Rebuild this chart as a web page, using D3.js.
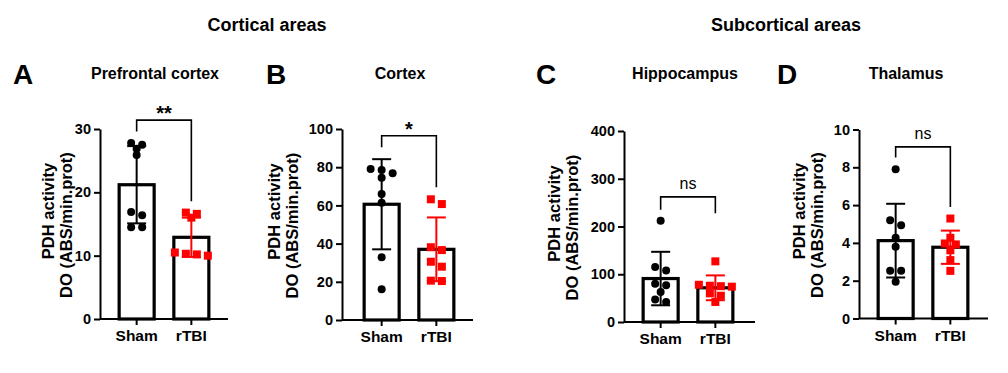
<!DOCTYPE html>
<html>
<head>
<meta charset="utf-8">
<script src="https://cdn.jsdelivr.net/npm/d3@7"></script>
<style>
    body { margin: 0; background: #fff; }
    svg text { font-family: "Liberation Sans", Arial, sans-serif; }
</style>
</head>
<body>
<svg id="chart" width="1008" height="373"></svg>
<script>
// values
const groups = ["Sham", "rTBI"];
const panelLetters = ["A", "B", "C", "D"];
const panelTitles = ["Prefrontal cortex", "Cortex", "Hippocampus", "Thalamus"];
const sectionTitles = ["Cortical areas", "Subcortical areas"];
const yLabelLines = ["PDH activity", "DO (ABS/min.prot)"];

const yMax = [30, 100, 400, 10];
const yTicks = [
    [0, 10, 20, 30],
    [0, 20, 40, 60, 80, 100],
    [0, 100, 200, 300, 400],
    [0, 2, 4, 6, 8, 10]
];

const shamMean = [21.2, 60.6, 91, 4.12];
const shamSD = [6.1, 23.6, 56, 1.95];
const rtbiMean = [12.9, 37.0, 71.6, 3.77];
const rtbiSD = [3.1, 16.7, 26, 0.88];

const shamPoints = [
    [27.8, 27.5, 26.9, 25.9, 16.9, 16.4, 14.5, 14.5],
    [79.0, 78.5, 76.8, 74.5, 66.0, 61.4, 32.8, 16.1],
    [212, 115, 108, 80, 77, 63, 47, 42],
    [7.9, 5.2, 4.94, 4.27, 3.79, 2.52, 2.52, 1.94]
];
const rtbiPoints = [
    [16.8, 16.6, 16.0, 10.5, 10.3, 10.2, 10.0],
    [63.2, 60.7, 38.1, 36.6, 30.5, 27.9, 20.6, 20.4],
    [127, 78, 76, 75, 74, 60, 55, 42],
    [5.29, 4.27, 3.97, 3.92, 3.61, 3.09, 2.52]
];

const sigLabels = ["**", "*", "ns", "ns"];
// bracket: top, left leg end, right leg end (in data units)
const bracketTop = [31.4, 96.5, 262, 9.08];
const bracketLeft = [29.6, 90.4, 235, 8.52];
const bracketRight = [18.6, 69.5, 228, 5.9];

// layout (pixels)
const layout = [
    {axisX: 100, bandX: 100, xEnd: 228, y0: 319, y1: 129, letterX: 13, titleX: 155, lab2: 28},
    {axisX: 342, bandX: 345, xEnd: 473, y0: 320, y1: 129, letterX: 266, titleX: 400, lab2: 44},
    {axisX: 624, bandX: 624, xEnd: 755, y0: 322, y1: 131, letterX: 536, titleX: 685, lab2: 46},
    {axisX: 859, bandX: 859, xEnd: 988, y0: 318.5, y1: 129.5, letterX: 777, titleX: 906, lab2: 36}
];
const sectionX = [267, 786];
const colors = {Sham: "#000", rTBI: "#ff0000"};

const svg = d3.select("#chart");

svg.selectAll(".sectionTitle")
    .data(sectionTitles)
    .join("text")
        .classed("sectionTitle", true)
        .attr("x", (d, i) => sectionX[i])
        .attr("y", 31)
        .attr("text-anchor", "middle")
        .style("font-size", "18px")
        .style("font-weight", "bold")
        .text(d => d);

// points close in height go in one row, centred on the group
function dodge(values, yScale, cx) {
    const sorted = values.slice().sort((a, b) => b - a);
    const rows = [];
    sorted.forEach(v => {
        const y = yScale(v);
        const row = rows[rows.length - 1];
        if (row && Math.abs(y - row[0].y) <= 5.05) row.push({v, y});
        else rows.push([{v, y}]);
    });
    const out = [];
    rows.forEach(row => {
        row.forEach((p, j) => {
            out.push({v: p.v, y: p.y, x: cx + (j - (row.length - 1) / 2) * 11});
        });
    });
    return out;
}

panelLetters.forEach((letter, i) => {
    const L = layout[i];
    const g = svg.append("g");

    g.append("text")
        .attr("x", L.letterX)
        .attr("y", 84)
        .style("font-size", "28px")
        .style("font-weight", "bold")
        .text(letter);

    g.append("text")
        .attr("x", L.titleX)
        .attr("y", 79)
        .attr("text-anchor", "middle")
        .style("font-size", "16px")
        .style("font-weight", "bold")
        .text(panelTitles[i]);

    const xScale = d3.scaleBand()
        .domain(groups)
        .range([L.bandX, L.bandX + 128])
        .paddingInner(0.36)
        .paddingOuter(0.35);

    const yScale = d3.scaleLinear()
        .domain([0, yMax[i]])
        .range([L.y0, L.y1]);

    const bw = xScale.bandwidth();
    const cx = d => xScale(d) + bw / 2;

    const stats = [
        {group: "Sham", mean: shamMean[i], sd: shamSD[i], pts: shamPoints[i]},
        {group: "rTBI", mean: rtbiMean[i], sd: rtbiSD[i], pts: rtbiPoints[i]}
    ];

    // bars
    g.selectAll(".bar")
        .data(stats)
        .join("rect")
            .classed("bar", true)
            .attr("x", d => xScale(d.group))
            .attr("y", d => yScale(d.mean))
            .attr("width", bw)
            .attr("height", d => yScale(0) - yScale(d.mean))
            .attr("fill", "#fff")
            .attr("stroke", "#000")
            .attr("stroke-width", 3.2);

    // axes
    const yAxis = g.append("g")
        .attr("transform", `translate(${L.axisX},0)`)
        .call(d3.axisLeft(yScale).tickValues(yTicks[i]).tickSize(6).tickSizeOuter(0).tickPadding(3));
    const xAxis = g.append("g")
        .attr("transform", `translate(0,${L.y0})`)
        .call(d3.axisBottom(xScale).tickSize(6).tickSizeOuter(0).tickPadding(5));
    xAxis.select(".domain").attr("d", `M${L.axisX},0H${L.xEnd}`);

    [yAxis, xAxis].forEach(ax => {
        ax.select(".domain").attr("stroke-width", 2);
        ax.selectAll(".tick line").attr("stroke-width", 2);
        ax.selectAll(".tick text")
            .style("font-family", '"Liberation Sans", Arial, sans-serif')
            .style("font-weight", "bold")
            .attr("fill", "#000");
    });
    yAxis.selectAll(".tick text").style("font-size", "14.5px");
    xAxis.selectAll(".tick text").style("font-size", "15.5px");

    // error bars (mean ± SD)
    const eb = g.selectAll(".err")
        .data(stats)
        .join("g")
            .classed("err", true)
            .attr("stroke", d => colors[d.group])
            .attr("stroke-width", 2);
    eb.append("line")
        .attr("x1", d => cx(d.group)).attr("x2", d => cx(d.group))
        .attr("y1", d => yScale(d.mean + d.sd)).attr("y2", d => yScale(d.mean - d.sd));
    eb.append("line")
        .attr("x1", d => cx(d.group) - 9.5).attr("x2", d => cx(d.group) + 9.5)
        .attr("y1", d => yScale(d.mean + d.sd)).attr("y2", d => yScale(d.mean + d.sd));
    eb.append("line")
        .attr("x1", d => cx(d.group) - 9.5).attr("x2", d => cx(d.group) + 9.5)
        .attr("y1", d => yScale(d.mean - d.sd)).attr("y2", d => yScale(d.mean - d.sd));

    // individual points
    g.selectAll(".shamPt")
        .data(dodge(stats[0].pts, yScale, cx("Sham")))
        .join("circle")
            .classed("shamPt", true)
            .attr("cx", d => d.x)
            .attr("cy", d => d.y)
            .attr("r", 4)
            .attr("fill", colors.Sham);

    g.selectAll(".rtbiPt")
        .data(dodge(stats[1].pts, yScale, cx("rTBI")))
        .join("rect")
            .classed("rtbiPt", true)
            .attr("x", d => d.x - 4)
            .attr("y", d => d.y - 4)
            .attr("width", 8)
            .attr("height", 8)
            .attr("fill", colors.rTBI);

    // significance bracket
    const bx0 = cx("Sham"), bx1 = cx("rTBI");
    g.append("path")
        .attr("d", `M${bx0},${yScale(bracketLeft[i])}V${yScale(bracketTop[i])}H${bx1}V${yScale(bracketRight[i])}`)
        .attr("fill", "none")
        .attr("stroke", "#000")
        .attr("stroke-width", 1.6);

    const isStar = sigLabels[i] !== "ns";
    g.append("text")
        .attr("x", (bx0 + bx1) / 2)
        .attr("y", yScale(bracketTop[i]) - (isStar ? 0 : 8))
        .attr("text-anchor", "middle")
        .style("font-size", isStar ? "20px" : "16px")
        .style("font-weight", isStar ? "bold" : "normal")
        .text(sigLabels[i]);

    // y label (two lines)
    const midY = (L.y0 + L.y1) / 2;
    const lab2X = L.axisX - L.lab2;
    [[yLabelLines[0], lab2X - 18, midY - 13], [yLabelLines[1], lab2X, midY + 1]].forEach(([t, x, y]) => {
        g.append("text")
            .attr("transform", `translate(${x},${y}) rotate(-90)`)
            .attr("text-anchor", "middle")
            .style("font-size", "16.5px")
            .style("font-weight", "bold")
            .text(t);
    });
});
</script>
</body>
</html>
